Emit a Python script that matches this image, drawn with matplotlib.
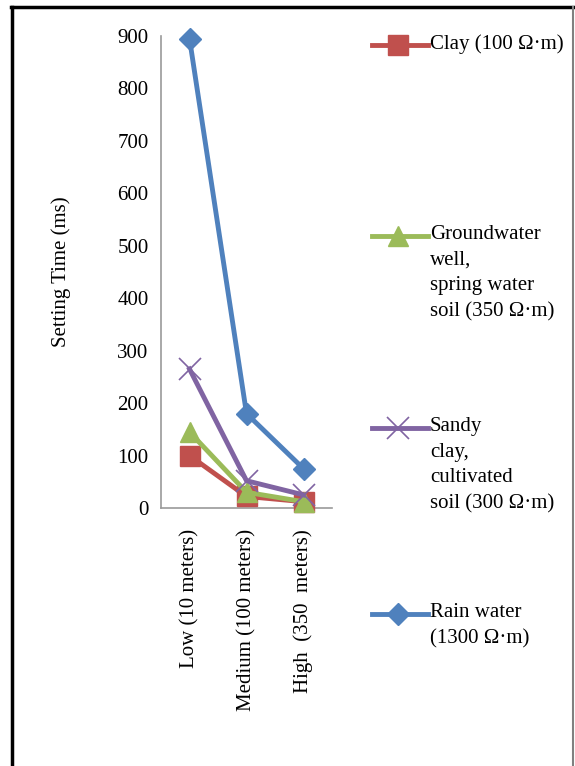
import matplotlib.pyplot as plt
from matplotlib.lines import Line2D

plt.rcParams['font.family'] = ['Liberation Serif', 'DejaVu Serif']

categories = ['Low (10 meters)', 'Medium (100 meters)', 'High  (350  meters)']
clay = [100, 22, 12]
groundwater = [145, 30, 12]
sandy = [265, 52, 25]
rain = [895, 180, 75]

labels = ['Clay (100 \u03a9\u00b7m)',
          'Groundwater\nwell,\nspring water\nsoil (350 \u03a9\u00b7m)',
          'Sandy\nclay,\ncultivated\nsoil (300 \u03a9\u00b7m)',
          'Rain water\n(1300 \u03a9\u00b7m)']
series = [clay, groundwater, sandy, rain]
colors = ['#C0504D', '#9BBB59', '#8064A2', '#4F81BD']
markers = ['s', '^', 'x', 'D']
msizes = [14, 14, 16, 11]

W, H = 575, 766
fig = plt.figure(figsize=(W / 100, H / 100), dpi=100)
ax = fig.add_axes([161 / W, 1 - 508 / H, (332 - 161) / W, (508 - 36) / H])

x = range(len(categories))
for vals, c, m, ms in zip(series, colors, markers, msizes):
    ax.plot(x, vals, color=c, lw=3.5, marker=m, markersize=ms,
            markeredgewidth=1.2 if m == 'x' else 1, markeredgecolor=c,
            clip_on=False, zorder=3)

ax.set_xlim(-0.5, 2.5)
ax.set_ylim(0, 900)
ax.set_yticks(range(0, 901, 100))
ax.set_xticks(list(x))
ax.set_xticklabels(categories, rotation=90, va='top', ha='center')
ax.tick_params(axis='both', length=0, labelsize=15)
ax.tick_params(axis='y', pad=9)
ax.tick_params(axis='x', pad=15)
for s in ['top', 'right']:
    ax.spines[s].set_visible(False)
for s in ['left', 'bottom']:
    ax.spines[s].set_color('#9a9a9a')
    ax.spines[s].set_linewidth(1.2)
ax.set_ylabel('Setting Time (ms)', fontsize=15)
ax.yaxis.set_label_coords((71 - 161) / (332 - 161), 0.5)

# legend drawn by hand, handle aligned with the first text line
leg_y = [45, 236, 428, 614]
for lab, c, m, ms, yy in zip(labels, colors, markers, msizes, leg_y):
    fy = 1 - yy / H
    fig.add_artist(Line2D([372 / W, 398 / W, 428 / W], [fy, fy, fy],
                          color=c, lw=3.5, marker=m, markersize=ms,
                          markeredgecolor=c, markevery=[1],
                          markeredgewidth=1.2 if m == 'x' else 1))
    fig.text(430 / W, 1 - (yy - 11) / H, lab, fontsize=15, va='top',
             ha='left', linespacing=1.48)

# page frame
fig.add_artist(Line2D([12 / W, 12 / W], [0, 1 - 7 / H], color='black', lw=2.5))
fig.add_artist(Line2D([11 / W, 574 / W], [1 - 7 / H, 1 - 7 / H], color='black', lw=2.5))
fig.add_artist(Line2D([573 / W, 573 / W], [0, 1 - 7 / H], color='#808080', lw=1.5))

fig.savefig('out.png', dpi=100)
